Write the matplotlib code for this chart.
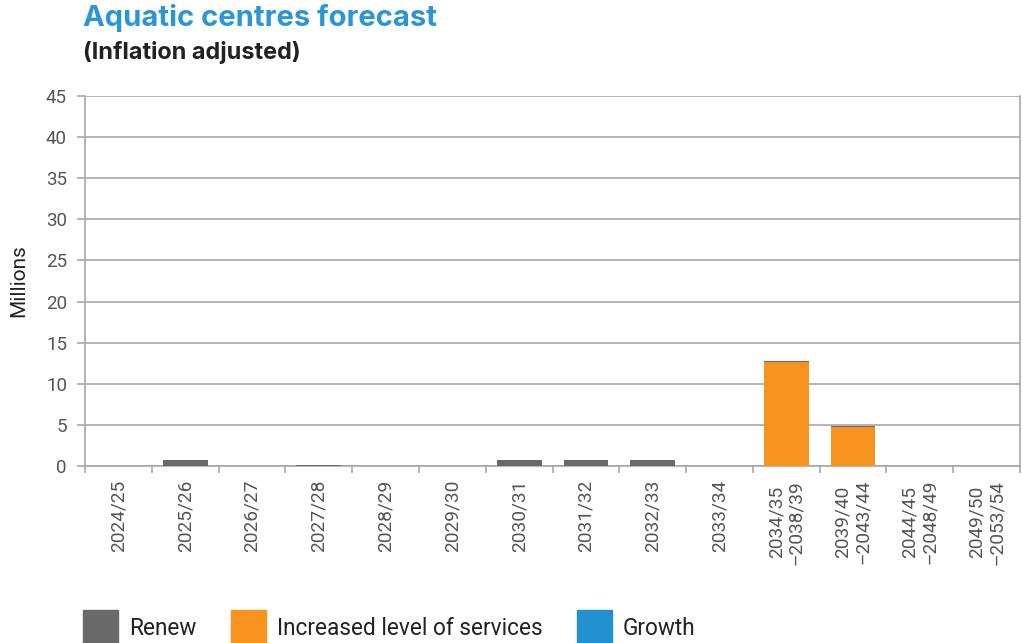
import matplotlib
matplotlib.use("Agg")
import matplotlib.pyplot as plt
import numpy as np
from matplotlib.patches import Patch

plt.rcParams['font.family'] = ['Inter', 'DejaVu Sans']

categories = ["2024/25", "2025/26", "2026/27", "2027/28", "2028/29", "2029/30",
              "2030/31", "2031/32", "2032/33", "2033/34",
              "2034/35\n\u20132038/39", "2039/40\n\u20132043/44",
              "2044/45\n\u20132048/49", "2049/50\n\u20132053/54"]
increased = [0, 0, 0, 0, 0, 0, 0, 0, 0, 0, 12.65, 4.75, 0, 0]
growth = [0] * 14
renew = [0, 0.7, 0, 0.12, 0, 0, 0.7, 0.7, 0.7, 0, 0.12, 0.12, 0, 0]
yticks = list(range(0, 50, 5))

c_renew = "#6b6a6a"
c_incr = "#f7931e"
c_growth = "#2191d1"
grid_c = "#a8a8a8"
text_c = "#555555"
body_font = ['Roboto', 'DejaVu Sans']

fig = plt.figure(figsize=(10.23, 6.43), dpi=100)
ax = fig.add_axes([0.0831, 0.2753, 0.914, 0.5754])

x = np.arange(len(categories))
w = 0.67
ax.bar(x, increased, w, color=c_incr, zorder=3)
ax.bar(x, growth, w, bottom=increased, color=c_growth, zorder=3)
ax.bar(x, renew, w, bottom=np.add(increased, growth), color=c_renew, zorder=3)

ax.set_xlim(-0.5, len(categories) - 0.5)
ax.set_ylim(0, 45)
ax.set_yticks(yticks)
ax.yaxis.grid(True, color=grid_c, linewidth=1.2, zorder=0)
ax.tick_params(axis='y', length=6, color=grid_c, width=1.2,
               labelsize=13.5, labelcolor=text_c, pad=7)

ax.set_xticks(x)
ax.set_xticklabels(categories, rotation=90, fontsize=13.8, color=text_c,
                   family=body_font, linespacing=1.15)
ax.set_xticks(np.arange(-0.5, len(categories)), minor=True)
ax.tick_params(axis='x', which='major', length=0, pad=10)
ax.tick_params(axis='x', which='minor', length=5, color=grid_c, width=1.2)
for lbl in ax.get_yticklabels():
    lbl.set_family(body_font)

for side in ['left', 'bottom', 'right']:
    ax.spines[side].set_color(grid_c)
    ax.spines[side].set_linewidth(1.2)
ax.spines['top'].set_visible(False)

ax.set_ylabel("Millions", fontsize=15, color="#222222", labelpad=13,
              family=body_font)

fig.text(0.081, 0.972, "Aquatic centres forecast", fontsize=21, fontweight='bold',
         color="#2a96d6", va='center', ha='left')
fig.text(0.081, 0.919, "(Inflation adjusted)", fontsize=16.9, fontweight='bold',
         color="#222222", va='center', ha='left')

handles = [Patch(color=c_renew, label="Renew"),
           Patch(color=c_incr, label="Increased level of services"),
           Patch(color=c_growth, label="Growth")]
leg = fig.legend(handles=handles, loc='upper left', bbox_to_anchor=(0.0811, 0.052),
                 ncol=3, frameon=False, handlelength=1.55, handleheight=2.1,
                 columnspacing=1.5, handletextpad=0.5, borderpad=0, borderaxespad=0,
                 prop={'family': body_font, 'size': 16.3})
for t in leg.get_texts():
    t.set_color("#222222")

fig.savefig("out.png", dpi=100)
